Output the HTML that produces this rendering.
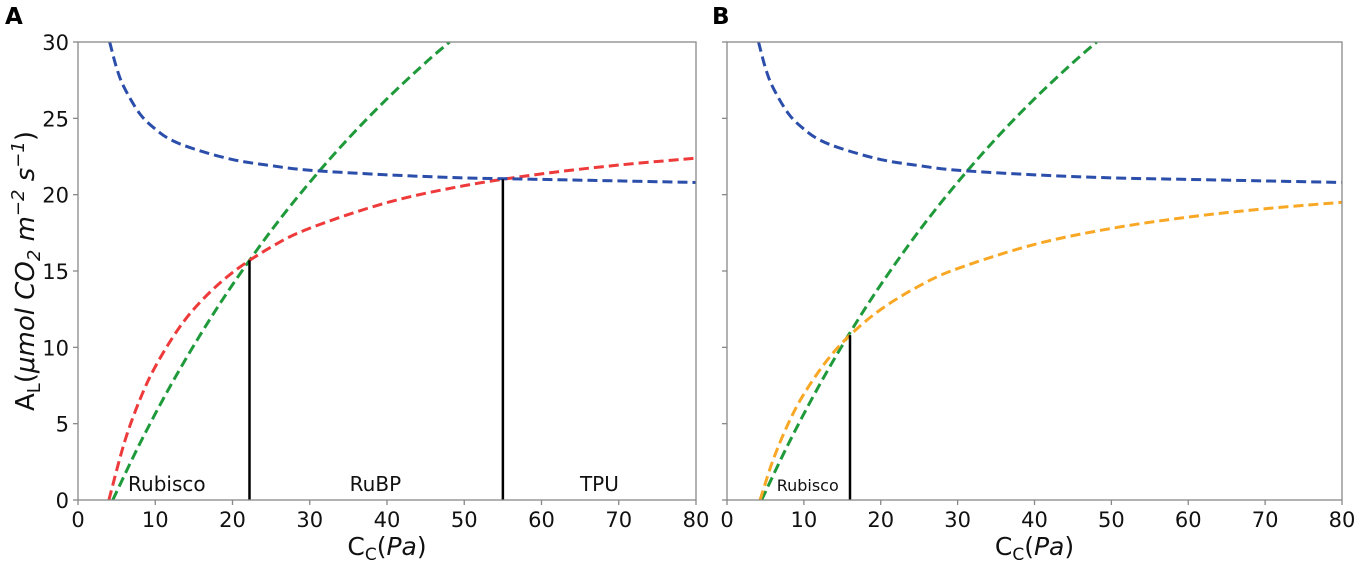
<!DOCTYPE html>
<html><head><meta charset="utf-8"><style>
body{margin:0;background:#fff;}
svg{display:block;font-family:"DejaVu Sans","Liberation Sans",sans-serif;}
</style></head><body>
<svg id="c" width="1358" height="562"></svg>
<script>
const xTicks=[0,10,20,30,40,50,60,70,80];
const yTicks=[0,5,10,15,20,25,30];
const blueX=[4.1,5,6,8,10,12,15,20,25,30,40,50,60,70,80];
const blueY=[30.0,28.3,27.0,25.3,24.3,23.6,23.0,22.3,21.9,21.6,21.3,21.1,21.0,20.9,20.8];
const greenX=[4.5,8,12,16,20,25,30,35,40,45,48.1];
const greenY=[0,3.69,7.51,10.96,14.10,17.64,20.81,23.68,26.28,28.65,30.0];
const redX=[4,6,8,10,13,16,20,25,30,40,50,60,70,80];
const redY=[0,3.76,6.56,8.73,11.21,13.06,14.90,16.57,17.80,19.48,20.59,21.36,21.94,22.39];
const orangeX=[4.3,6,8,10,13,16,20,25,30,40,50,60,70,80];
const orangeY=[0,2.63,5.04,6.94,9.14,10.8,12.48,14.02,15.16,16.74,17.79,18.53,19.08,19.5];
const limitsA=[[22.2,15.7],[55,21.0]];
const limitsB=[[16,10.8]];
const regionLabelsA=[["Rubisco",11.5],["RuBP",38.5],["TPU",67.5]];
const regionLabelsB=[["Rubisco",10.5]];

const NS="http://www.w3.org/2000/svg";
const svg=document.getElementById('c');
function el(t,a,p){const e=document.createElementNS(NS,t);for(const k in a)e.setAttribute(k,a[k]);(p||svg).appendChild(e);return e;}
const Y0=500,Y1=42;
function yS(v){return Y0+(Y1-Y0)*v/30;}
function pathFor(xs,ys,xS){
  const p=xs.map((x,i)=>[xS(x),yS(ys[i])]);
  let d="M"+p[0][0]+","+p[0][1];
  for(let i=0;i<p.length-1;i++){
    const p0=p[i-1]||p[i],p1=p[i],p2=p[i+1],p3=p[i+2]||p2;
    const c1=[p1[0]+(p2[0]-p0[0])/6,p1[1]+(p2[1]-p0[1])/6];
    const c2=[p2[0]-(p3[0]-p1[0])/6,p2[1]-(p3[1]-p1[1])/6];
    d+=`C${c1[0]},${c1[1]} ${c2[0]},${c2[1]} ${p2[0]},${p2[1]}`;
  }
  return d;
}
function panel(id,L,R,series,limits,labels,yLabels,labelSize,plx){
  const xS=v=>L+(R-L)*v/80;
  const g=el('g',{});
  
  
  const clip=el('clipPath',{id:'cl'+id},g);el('rect',{x:L,y:Y1,width:R-L,height:Y0-Y1},clip);
  series.forEach(s=>{
    const p=el('path',{d:pathFor(s.x,s.y,xS),fill:'none',stroke:s.c,'stroke-width':3,'stroke-dasharray':'10,5','clip-path':`url(#cl${id})`},g);
    
    
  });
  limits.forEach((l,i)=>{
    const ln=el('line',{x1:xS(l[0]),x2:xS(l[0]),y1:Y0,y2:yS(l[1]),stroke:'#000','stroke-width':2.5},g);
    
    
  });
  labels.forEach(l=>{
    const t=el('text',{x:xS(l[1]),y:491,'text-anchor':'middle','font-size':labelSize,fill:'#111'},g);
    t.textContent=l[0];
    
    
  });
  const fr=el('rect',{x:L,y:Y1,width:R-L,height:Y0-Y1,fill:'none',stroke:'#888','stroke-width':1.3},g);
  
  
  xTicks.forEach(v=>{
    el('line',{x1:xS(v),x2:xS(v),y1:Y0,y2:Y0+5,stroke:'#888','stroke-width':1.3},g);
    const t=el('text',{x:xS(v),y:Y0+27,'text-anchor':'middle','font-size':21,fill:'#111'},g);
    t.textContent=v;
    
    
  });
  yTicks.forEach(v=>{
    el('line',{x1:L-5,x2:L,y1:yS(v),y2:yS(v),stroke:'#888','stroke-width':1.3},g);
    if(yLabels){
      const t=el('text',{x:L-9,y:yS(v)+8,'text-anchor':'end','font-size':21,fill:'#111'},g);
      t.textContent=v;
      
      
    }
  });
  const xl=el('text',{x:(L+R)/2,y:555,'text-anchor':'middle','font-size':25,fill:'#111'},g);
  xl.innerHTML='C<tspan font-size="17" dy="5">C</tspan><tspan dy="-5">(</tspan><tspan font-style="italic">Pa</tspan>)';
  
  
  const pl=el('text',{x:plx,y:24,'font-size':23,'font-weight':'bold',fill:'#000'},g);
  pl.textContent=id;
  
  
}
panel('A',78,696,[
 {x:greenX,y:greenY,c:'#1f9a3a',n:'rubp-curve'},
 {x:redX,y:redY,c:'#ee3a3a',n:'rubisco-curve'},
 {x:blueX,y:blueY,c:'#2b4eab',n:'tpu-curve'}],limitsA,regionLabelsA,true,20,5);
panel('B',727,1342,[
 {x:greenX,y:greenY,c:'#1f9a3a',n:'rubp-curve'},
 {x:orangeX,y:orangeY,c:'#f9a825',n:'rubisco-curve'},
 {x:blueX,y:blueY,c:'#2b4eab',n:'tpu-curve'}],limitsB,regionLabelsB,false,16,712);
const yl=el('text',{transform:'translate(34,271) rotate(-90)','text-anchor':'middle','font-size':26,fill:'#111'});
yl.innerHTML='A<tspan font-size="18" dy="6">L</tspan><tspan dy="-6">(</tspan><tspan font-style="italic">μmol CO</tspan><tspan font-style="italic" font-size="18" dy="6">2</tspan><tspan font-style="italic" dy="-6"> m</tspan><tspan font-style="italic" font-size="18" dy="-10">−2</tspan><tspan font-style="italic" dy="10"> s</tspan><tspan font-style="italic" font-size="18" dy="-10">−1</tspan><tspan dy="10">)</tspan>';


</script>
</body></html>
